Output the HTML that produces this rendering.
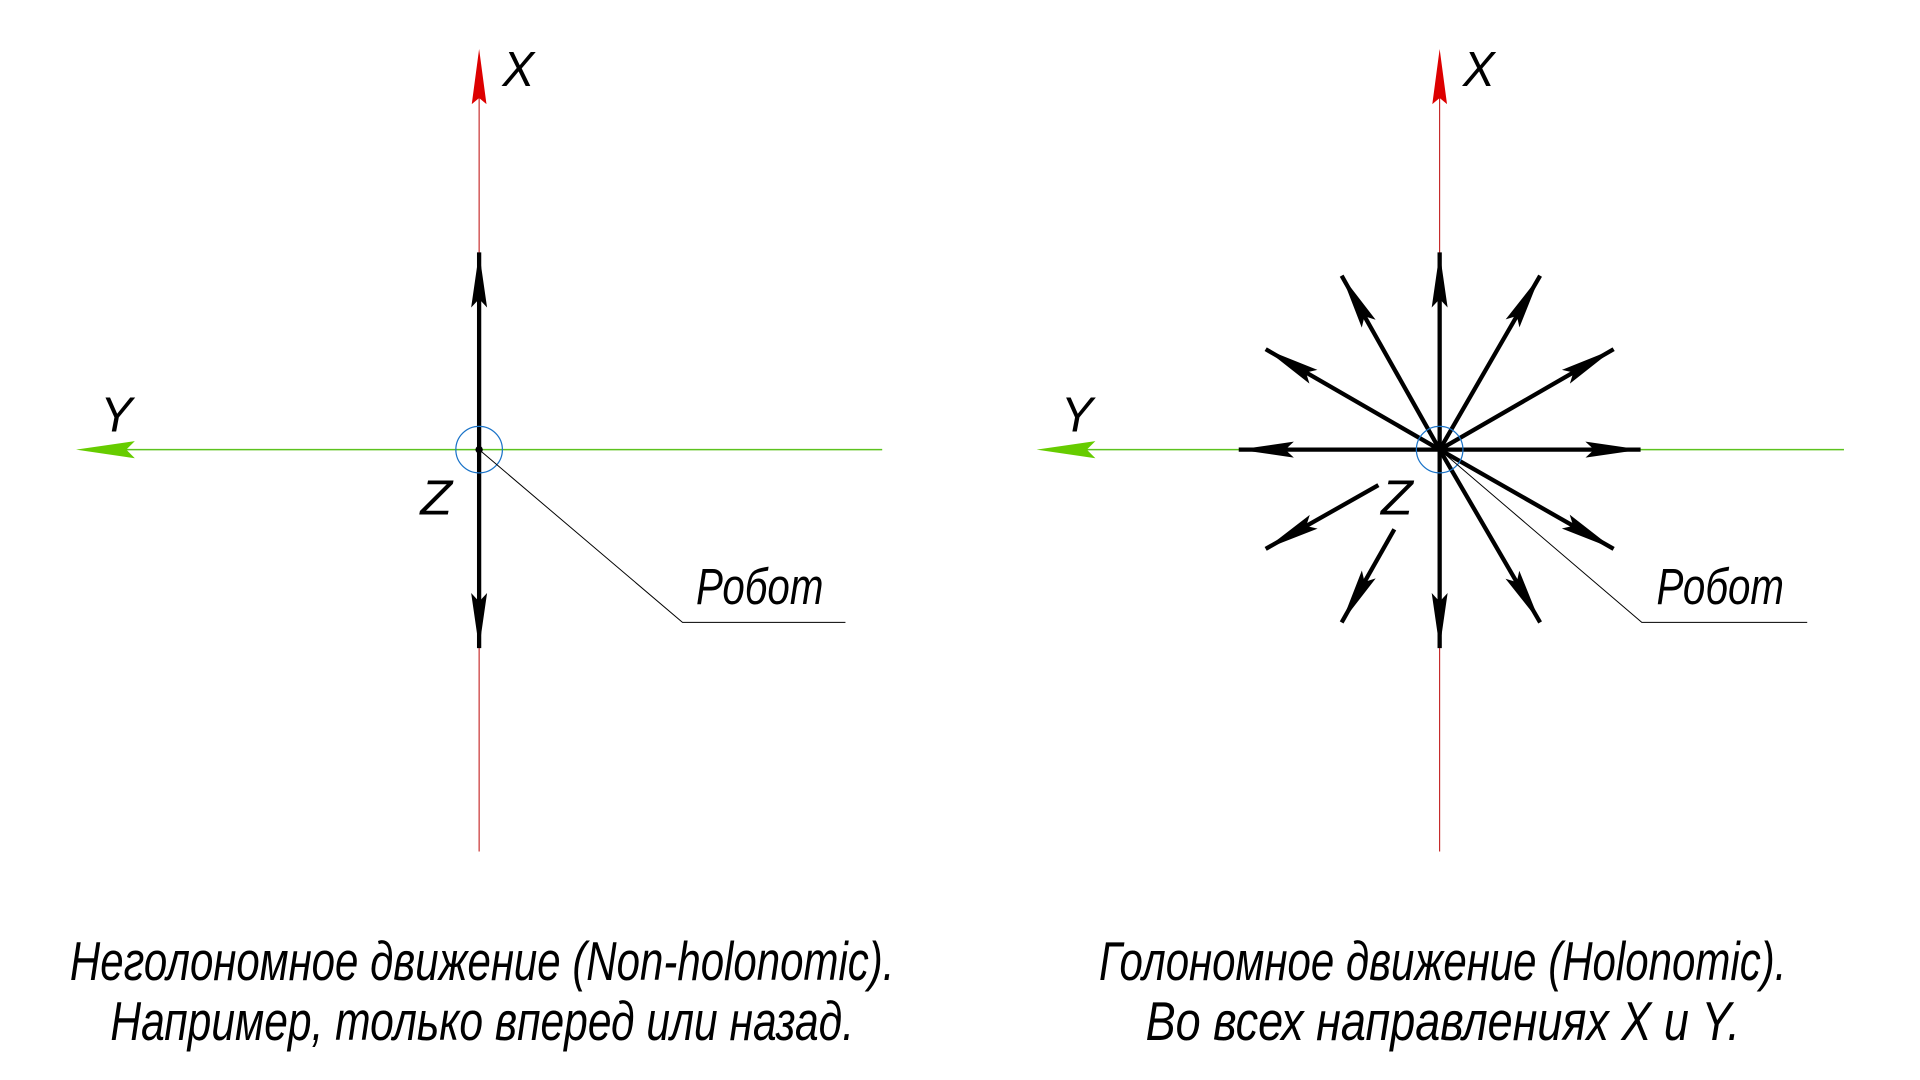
<!DOCTYPE html>
<html><head><meta charset="utf-8">
<style>
html,body{margin:0;padding:0;background:#fff;width:1920px;height:1080px;overflow:hidden}
svg{display:block}
text{font-family:"Liberation Sans","DejaVu Sans",sans-serif;font-style:italic;fill:#000}
</style></head><body>
<svg width="1920" height="1080" viewBox="0 0 1567 881.5" xmlns="http://www.w3.org/2000/svg">
<defs>
<marker id="ab" markerUnits="userSpaceOnUse" markerWidth="60" markerHeight="20" refX="45" refY="7" orient="auto" viewBox="0 0 60 20">
<path d="M45,7 L0,0.5 L7,7 L0,13.5 Z" fill="#000"/>
</marker>
</defs>

<!-- LEFT -->
<g>
<line x1="391" y1="80" x2="391" y2="695" stroke="#b00" stroke-width="0.8"/>
<path d="M391,40 L385,85 L391,80 L397,85 Z" fill="#d00"/>
<line x1="80" y1="367" x2="720" y2="367" stroke="#5cc21e" stroke-width="1.2"/>
<path d="M62,367 L110,360 L103,367 L110,374 Z" fill="#66cc00"/>
<text x="410" y="70" font-size="40" textLength="26" lengthAdjust="spacingAndGlyphs">X</text>
<text x="82" y="352" font-size="40" textLength="26" lengthAdjust="spacingAndGlyphs">Y</text>
<text x="343" y="420" font-size="40" textLength="26" lengthAdjust="spacingAndGlyphs">Z</text>
<line x1="391" y1="367" x2="391" y2="206" stroke="#000" stroke-width="3.5" marker-end="url(#ab)"/>
<line x1="391" y1="367" x2="391" y2="529" stroke="#000" stroke-width="3.5" marker-end="url(#ab)"/>
<circle cx="391" cy="367" r="19" fill="none" stroke="#1a73c8" stroke-width="1"/>
<circle cx="391" cy="367" r="3" fill="#000"/>
<polyline points="391,367 557,508 690,508" fill="none" stroke="#000" stroke-width="0.8"/>
<text x="568" y="493" font-size="42" textLength="104" lengthAdjust="spacingAndGlyphs">Робот</text>
</g>

<!-- RIGHT -->
<g>
<line x1="1175" y1="80" x2="1175" y2="695" stroke="#b00" stroke-width="0.8"/>
<path d="M1175,40 L1169,85 L1175,80 L1181,85 Z" fill="#d00"/>
<line x1="864" y1="367" x2="1505" y2="367" stroke="#5cc21e" stroke-width="1.2"/>
<path d="M846,367 L894,360 L887,367 L894,374 Z" fill="#66cc00"/>
<text x="1194" y="70" font-size="40" textLength="26" lengthAdjust="spacingAndGlyphs">X</text>
<text x="866" y="352" font-size="40" textLength="26" lengthAdjust="spacingAndGlyphs">Y</text>
<text x="1127" y="420" font-size="40" textLength="26" lengthAdjust="spacingAndGlyphs">Z</text>
<g stroke="#000" stroke-width="3.5" marker-end="url(#ab)">
<line x1="1175" y1="367" x2="1175" y2="206"/>
<line x1="1175" y1="367" x2="1175" y2="529"/>
<line x1="1175" y1="367" x2="1011" y2="367"/>
<line x1="1175" y1="367" x2="1339" y2="367"/>
<line x1="1175" y1="367" x2="1095" y2="225"/>
<line x1="1175" y1="367" x2="1257" y2="225"/>
<line x1="1175" y1="367" x2="1033" y2="285"/>
<line x1="1175" y1="367" x2="1317" y2="285"/>
<line x1="1175" y1="367" x2="1317" y2="448"/>
<line x1="1175" y1="367" x2="1257" y2="508"/>
<line x1="1125" y1="396" x2="1033" y2="448"/>
<line x1="1138" y1="432" x2="1095" y2="508"/>
</g>
<circle cx="1175" cy="367" r="19" fill="none" stroke="#1a73c8" stroke-width="1"/>
<polyline points="1175,367 1340,508 1475,508" fill="none" stroke="#000" stroke-width="0.8"/>
<text x="1352" y="493" font-size="42" textLength="104" lengthAdjust="spacingAndGlyphs">Робот</text>
</g>

<!-- Captions -->
<text x="57" y="800" font-size="45" textLength="673" lengthAdjust="spacingAndGlyphs">Неголономное движение (Non-holonomic).</text>
<text x="90" y="849" font-size="45" textLength="607" lengthAdjust="spacingAndGlyphs">Например, только вперед или назад.</text>
<text x="897" y="800" font-size="45" textLength="561" lengthAdjust="spacingAndGlyphs">Голономное движение (Holonomic).</text>
<text x="935" y="849" font-size="45" textLength="485" lengthAdjust="spacingAndGlyphs">Во всех направлениях X и Y.</text>
</svg>
</body></html>
